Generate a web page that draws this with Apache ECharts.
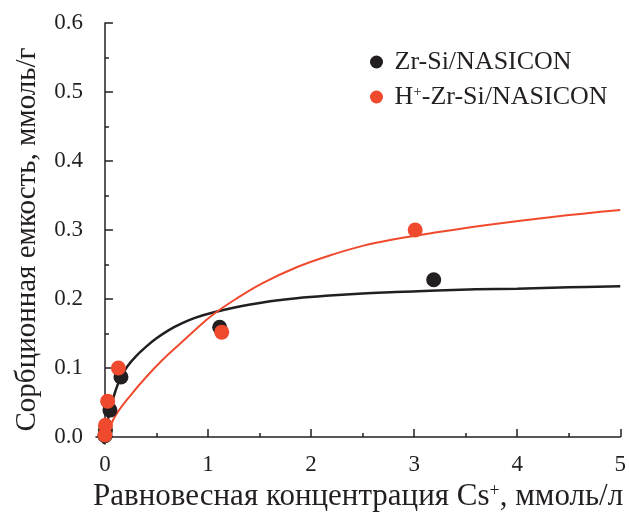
<!DOCTYPE html>
<html>
<head>
<meta charset="utf-8">
<script src="https://cdn.jsdelivr.net/npm/echarts@6/dist/echarts.min.js"></script>
<style>
  html, body { margin: 0; padding: 0; background: #fff; }
  #chart { width: 629px; height: 518px; }
</style>
</head>
<body>
<div id="chart"></div>
<script>
// measured points
const blackName = 'Zr-Si/NASICON'
const redName = 'H+-Zr-Si/NASICON'
const blackX = [0, 0.005, 0.048, 0.155, 1.113, 3.19]
const blackY = [0.002, 0.01, 0.039, 0.087, 0.159, 0.228]
const redX = [0, 0.005, 0.026, 0.13, 1.133, 3.01]
const redY = [0.003, 0.017, 0.052, 0.1, 0.152, 0.3]

// fitted curves
const blackFitX = [-0.012, 0.02, 0.048, 0.1, 0.155, 0.22, 0.30, 0.40, 0.50, 0.62, 0.75, 0.88, 1.04, 1.27, 1.53, 1.86, 2.18, 2.50, 2.82, 3.15, 3.6, 4.0, 4.5, 5.0]
const blackFitY = [-0.01, 0.018, 0.039, 0.066, 0.087, 0.103, 0.117, 0.131, 0.143, 0.155, 0.165, 0.173, 0.180, 0.188, 0.195, 0.201, 0.205, 0.208, 0.210, 0.212, 0.214, 0.215, 0.217, 0.2185]
const redFitX = [0, 0.05, 0.106, 0.235, 0.40, 0.56, 0.72, 0.88, 1.04, 1.27, 1.53, 1.86, 2.18, 2.50, 2.82, 3.15, 3.69, 4.34, 5.0]
const redFitY = [-0.004, 0.015, 0.032, 0.058, 0.087, 0.112, 0.134, 0.156, 0.1765, 0.2, 0.223, 0.246, 0.263, 0.277, 0.287, 0.295, 0.307, 0.319, 0.329]

// axis ticks
const xMajor = [0, 1, 2, 3, 4, 5]
const xMinor = [0.5, 1.5, 2.5, 3.5, 4.5]
const yMajor = [0, 0.1, 0.2, 0.3, 0.4, 0.5, 0.6]
const yMinor = [0.05, 0.15, 0.25, 0.35, 0.45, 0.55]

const ink = '#231f20'
const red = '#ef4a2e'
const serif = '"Liberation Serif", "DejaVu Serif", serif'

const zip = (xs, ys) => xs.map((x, i) => [x, ys[i]])

const xBase = { type: 'value', min: -0.087, max: 5, position: 'bottom', splitLine: { show: false } }
const yBase = { type: 'value', min: -0.0101, max: 0.6, position: 'left', splitLine: { show: false } }

const chart = echarts.init(document.getElementById('chart'))
chart.setOption({
  animation: false,
  grid: { left: 96, right: 6, top: 23, bottom: 72, containLabel: false },
  legend: {
    orient: 'vertical', left: 365, top: 44, itemGap: 9,
    itemWidth: 20, itemHeight: 13,
    data: [{ name: blackName, icon: 'circle' }, { name: redName, icon: 'circle' }],
    formatter: n => n === redName ? '{t|H}{s|+}{t|-Zr-Si/NASICON}' : '{t|' + n + '}',
    textStyle: {
      padding: [0, 0, 0, 3],
      rich: {
        t: { fontFamily: serif, fontSize: 26, color: ink, lineHeight: 25 },
        s: { fontFamily: serif, fontSize: 15, color: ink, lineHeight: 25, verticalAlign: 'bottom', padding: [0, 0, 10, 0] }
      }
    }
  },
  xAxis: [
    {
      ...xBase,
      name: '{t|Равновесная концентрация Cs}{s|+}{t|, ммоль/л}',
      nameLocation: 'middle', nameGap: 37,
      nameTextStyle: {
        rich: {
          t: { fontFamily: serif, fontSize: 31, color: ink, lineHeight: 32 },
          s: { fontFamily: serif, fontSize: 18, color: ink, lineHeight: 32, verticalAlign: 'bottom', padding: [0, 0, 13, 0] }
        }
      },
      axisLine: { lineStyle: { color: ink, width: 1.5 } },
      axisTick: { inside: true, length: 8, customValues: xMajor, lineStyle: { color: ink, width: 1.5 } },
      axisLabel: { customValues: xMajor, margin: 9, fontFamily: serif, fontSize: 23, color: ink, formatter: v => String(v) }
    },
    {
      ...xBase,
      axisLine: { show: false },
      axisTick: { inside: true, length: 4, customValues: xMinor, lineStyle: { color: ink, width: 1.5 } },
      axisLabel: { show: false }
    }
  ],
  yAxis: [
    {
      ...yBase,
      name: 'Сорбционная емкость, ммоль/г',
      nameLocation: 'middle', nameGap: 54, nameRotate: 90,
      nameTextStyle: { fontFamily: serif, fontSize: 29, color: ink, padding: [0, 12, 0, 0] },
      axisLine: { show: true, lineStyle: { color: ink, width: 1.5 } },
      axisTick: { show: true, inside: true, length: 8, customValues: yMajor, lineStyle: { color: ink, width: 1.5 } },
      axisLabel: { customValues: yMajor, margin: 13, fontFamily: serif, fontSize: 23, color: ink, formatter: v => v.toFixed(1) }
    },
    {
      ...yBase,
      axisLine: { show: false },
      axisTick: { show: true, inside: true, length: 4, customValues: yMinor, lineStyle: { color: ink, width: 1.5 } },
      axisLabel: { show: false }
    }
  ],
  series: [
    {
      name: 'fitBlack', type: 'line', data: zip(blackFitX, blackFitY),
      smooth: 0.4, showSymbol: false, silent: true, clip: true,
      lineStyle: { color: ink, width: 2.5 }
    },
    {
      name: 'fitRed', type: 'line', data: zip(redFitX, redFitY),
      smooth: 0.4, showSymbol: false, silent: true, clip: true,
      lineStyle: { color: red, width: 2 }
    },
    {
      name: blackName, type: 'scatter', data: zip(blackX, blackY),
      symbolSize: 15, itemStyle: { color: ink, opacity: 1 }, z: 3
    },
    {
      name: redName, type: 'scatter', data: zip(redX, redY),
      symbolSize: 15, itemStyle: { color: red, opacity: 1 }, z: 4
    }
  ]
})
</script>
</body>
</html>
